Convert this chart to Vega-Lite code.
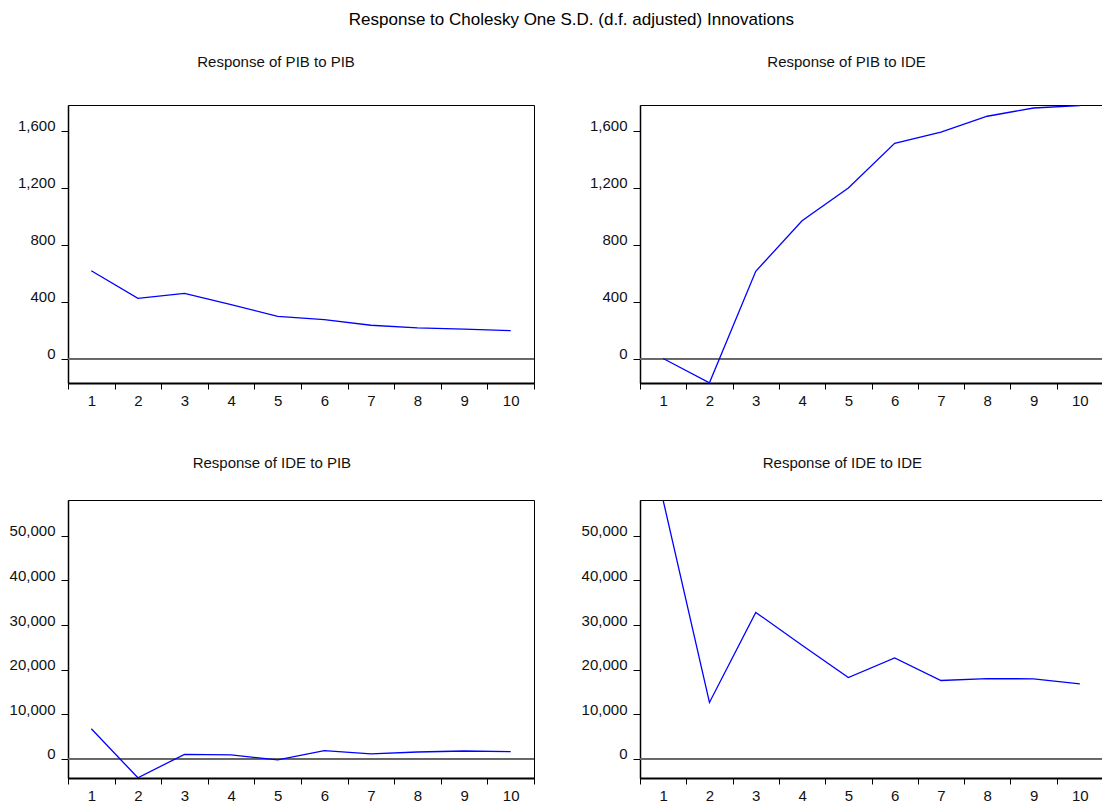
{
  "$schema": "https://vega.github.io/schema/vega-lite/v6.json",
  "background": "white",
  "padding": {"left": 8, "top": 10, "right": 0, "bottom": 2},
  "title": {"text": "Response to Cholesky One S.D. (d.f. adjusted) Innovations", "font": "Liberation Sans", "fontSize": 17, "fontWeight": "normal", "color": "black", "anchor": "middle", "frame": "bounds", "offset": 26, "dx": 15},
  "datasets": {
    "pib_pib": [
      {"period": 1, "value": 617}, {"period": 2, "value": 423}, {"period": 3, "value": 458}, {"period": 4, "value": 379}, {"period": 5, "value": 297},
      {"period": 6, "value": 274}, {"period": 7, "value": 234}, {"period": 8, "value": 215}, {"period": 9, "value": 206}, {"period": 10, "value": 196}
    ],
    "pib_ide": [
      {"period": 1, "value": 0}, {"period": 2, "value": -171}, {"period": 3, "value": 613}, {"period": 4, "value": 968}, {"period": 5, "value": 1198},
      {"period": 6, "value": 1513}, {"period": 7, "value": 1591}, {"period": 8, "value": 1703}, {"period": 9, "value": 1761}, {"period": 10, "value": 1778}
    ],
    "ide_pib": [
      {"period": 1, "value": 6716}, {"period": 2, "value": -4300}, {"period": 3, "value": 970}, {"period": 4, "value": 820}, {"period": 5, "value": -300},
      {"period": 6, "value": 1790}, {"period": 7, "value": 1045}, {"period": 8, "value": 1490}, {"period": 9, "value": 1716}, {"period": 10, "value": 1567}
    ],
    "ide_ide": [
      {"period": 1, "value": 58000}, {"period": 2, "value": 12612}, {"period": 3, "value": 32836}, {"period": 4, "value": 25450}, {"period": 5, "value": 18209},
      {"period": 6, "value": 22612}, {"period": 7, "value": 17537}, {"period": 8, "value": 17985}, {"period": 9, "value": 17910}, {"period": 10, "value": 16791}
    ]
  },
  "config": {
    "font": "Liberation Sans",
    "view": {"stroke": "black", "strokeWidth": 1},
    "axis": {"labelFont": "Liberation Sans", "labelFontSize": 15, "labelColor": "#111111", "grid": false, "title": null, "tickColor": "black", "domainColor": "black", "labelFlush": false, "labelOverlap": false, "labelBound": false},
    "axisX": {"labelAngle": 0, "tickBand": "extent", "tickSize": 6, "labelPadding": 4, "domainWidth": 2},
    "axisY": {"tickSize": 7, "labelPadding": 6, "labelBaseline": "alphabetic", "domainWidth": 1.5},
    "title": {"font": "Liberation Sans", "fontSize": 15, "fontWeight": "normal", "color": "#111111", "anchor": "middle", "frame": "bounds", "offset": 35}
  },
  "bounds": "flush",
  "columns": 2,
  "spacing": {"row": 117, "column": 106},
  "concat": [
    {
      "title": "Response of PIB to PIB",
      "width": 466, "height": 278,
      "data": {"name": "pib_pib"},
      "layer": [
        {"mark": {"type": "rule", "color": "#666666", "strokeWidth": 1.2}, "encoding": {"y": {"datum": 0, "type": "quantitative", "scale": {"domain": [-172, 1782], "nice": false, "zero": false}}}},
        {"mark": {"type": "line", "color": "#0000ff", "strokeWidth": 1.3, "clip": true},
         "encoding": {
           "x": {"field": "period", "type": "ordinal", "bandPosition": 0.5, "scale": {"type": "band", "paddingInner": 0, "paddingOuter": 0}},
           "y": {"field": "value", "type": "quantitative", "scale": {"domain": [-172, 1782], "nice": false, "zero": false}, "axis": {"values": [0, 400, 800, 1200, 1600], "format": ",d"}}
         }}
      ]
    },
    {
      "title": "Response of PIB to IDE",
      "width": 463, "height": 278,
      "data": {"name": "pib_ide"},
      "layer": [
        {"mark": {"type": "rule", "color": "#666666", "strokeWidth": 1.2}, "encoding": {"y": {"datum": 0, "type": "quantitative", "scale": {"domain": [-172, 1782], "nice": false, "zero": false}}}},
        {"mark": {"type": "line", "color": "#0000ff", "strokeWidth": 1.3, "clip": true},
         "encoding": {
           "x": {"field": "period", "type": "ordinal", "bandPosition": 0.5, "scale": {"type": "band", "paddingInner": 0, "paddingOuter": 0}},
           "y": {"field": "value", "type": "quantitative", "scale": {"domain": [-172, 1782], "nice": false, "zero": false}, "axis": {"values": [0, 400, 800, 1200, 1600], "format": ",d"}}
         }}
      ]
    },
    {
      "title": {"text": "Response of IDE to PIB", "offset": 29},
      "width": 466, "height": 278,
      "data": {"name": "ide_pib"},
      "layer": [
        {"mark": {"type": "rule", "color": "#666666", "strokeWidth": 1.2}, "encoding": {"y": {"datum": 0, "type": "quantitative", "scale": {"domain": [-4350, 58070], "nice": false, "zero": false}}}},
        {"mark": {"type": "line", "color": "#0000ff", "strokeWidth": 1.3, "clip": true},
         "encoding": {
           "x": {"field": "period", "type": "ordinal", "bandPosition": 0.5, "scale": {"type": "band", "paddingInner": 0, "paddingOuter": 0}},
           "y": {"field": "value", "type": "quantitative", "scale": {"domain": [-4350, 58070], "nice": false, "zero": false}, "axis": {"values": [0, 10000, 20000, 30000, 40000, 50000], "format": ",d"}}
         }}
      ]
    },
    {
      "title": {"text": "Response of IDE to IDE", "offset": 29},
      "width": 463, "height": 278,
      "data": {"name": "ide_ide"},
      "layer": [
        {"mark": {"type": "rule", "color": "#666666", "strokeWidth": 1.2}, "encoding": {"y": {"datum": 0, "type": "quantitative", "scale": {"domain": [-4350, 58070], "nice": false, "zero": false}}}},
        {"mark": {"type": "line", "color": "#0000ff", "strokeWidth": 1.3, "clip": true},
         "encoding": {
           "x": {"field": "period", "type": "ordinal", "bandPosition": 0.5, "scale": {"type": "band", "paddingInner": 0, "paddingOuter": 0}},
           "y": {"field": "value", "type": "quantitative", "scale": {"domain": [-4350, 58070], "nice": false, "zero": false}, "axis": {"values": [0, 10000, 20000, 30000, 40000, 50000], "format": ",d"}}
         }}
      ]
    }
  ]
}
